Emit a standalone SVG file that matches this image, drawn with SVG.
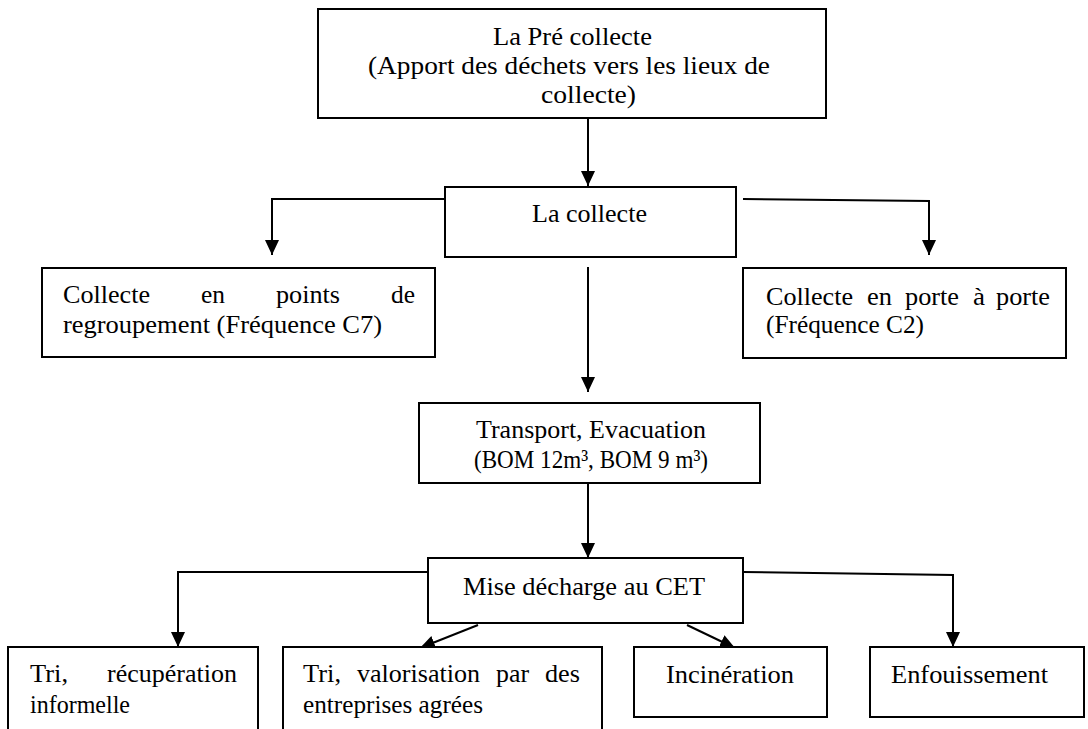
<svg xmlns="http://www.w3.org/2000/svg" width="1088" height="729" viewBox="0 0 1088 729">
<style>
.box{fill:#fff;stroke:#000;stroke-width:2}
.t{font-family:"Liberation Serif","Times New Roman",serif;font-size:26px;fill:#000}
.c{fill:none;stroke:#000;stroke-width:2}
</style>
<defs>
<marker id="ah" markerUnits="userSpaceOnUse" markerWidth="16" markerHeight="16" refX="15" refY="7" orient="auto">
<path d="M0,0 L15,7 L0,14 Z" fill="#000"/>
</marker>
</defs>
<rect width="1088" height="729" fill="#fff"/>
<g id="connectors">
<path class="c" d="M588,118 V186" marker-end="url(#ah)"/>
<path class="c" d="M445,199 H272 V255" marker-end="url(#ah)"/>
<path class="c" d="M743,199 L929,201 V255" marker-end="url(#ah)"/>
<path class="c" d="M588,267 V392" marker-end="url(#ah)"/>
<path class="c" d="M588,483 V558" marker-end="url(#ah)"/>
<path class="c" d="M428,572 H178 V647" marker-end="url(#ah)"/>
<path class="c" d="M478,625 L420,648" marker-end="url(#ah)"/>
<path class="c" d="M687,625 L735,648" marker-end="url(#ah)"/>
<path class="c" d="M743,572 L953,575 V647" marker-end="url(#ah)"/>
</g>
<g id="pre-collecte">
<rect class="box" x="318" y="9" width="508" height="109"/>
<text class="t" x="493" y="45" textLength="159" lengthAdjust="spacingAndGlyphs">La Pré collecte</text>
<text class="t" x="368" y="74" textLength="402" lengthAdjust="spacingAndGlyphs">(Apport des déchets vers les lieux de</text>
<text class="t" x="541" y="103" textLength="95" lengthAdjust="spacingAndGlyphs">collecte)</text>
</g>
<g id="collecte">
<rect class="box" x="445" y="187" width="291" height="70"/>
<text class="t" x="532" y="222" textLength="115" lengthAdjust="spacingAndGlyphs">La collecte</text>
</g>
<g id="points-regroupement">
<rect class="box" x="42" y="268" width="393" height="89"/>
<text class="t" x="63" y="303" textLength="87" lengthAdjust="spacingAndGlyphs">Collecte</text>
<text class="t" x="201" y="303" textLength="24" lengthAdjust="spacingAndGlyphs">en</text>
<text class="t" x="276" y="303" textLength="64" lengthAdjust="spacingAndGlyphs">points</text>
<text class="t" x="391" y="303" textLength="24" lengthAdjust="spacingAndGlyphs">de</text>
<text class="t" x="63" y="333" textLength="319" lengthAdjust="spacingAndGlyphs">regroupement (Fréquence C7)</text>
</g>
<g id="porte-a-porte">
<rect class="box" x="743" y="268" width="323" height="90"/>
<text class="t" x="766" y="305" textLength="87" lengthAdjust="spacingAndGlyphs">Collecte</text>
<text class="t" x="867" y="305" textLength="25" lengthAdjust="spacingAndGlyphs">en</text>
<text class="t" x="905" y="305" textLength="54" lengthAdjust="spacingAndGlyphs">porte</text>
<text class="t" x="973" y="305" textLength="12" lengthAdjust="spacingAndGlyphs">à</text>
<text class="t" x="996" y="305" textLength="54" lengthAdjust="spacingAndGlyphs">porte</text>
<text class="t" x="766" y="333" textLength="158" lengthAdjust="spacingAndGlyphs">(Fréquence C2)</text>
</g>
<g id="transport">
<rect class="box" x="419" y="403" width="341" height="80"/>
<text class="t" x="476" y="438" textLength="230" lengthAdjust="spacingAndGlyphs">Transport, Evacuation</text>
<text class="t" x="474" y="468" textLength="234" lengthAdjust="spacingAndGlyphs">(BOM 12m³, BOM 9 m³)</text>
</g>
<g id="mise-decharge">
<rect class="box" x="428" y="558" width="315" height="65"/>
<text class="t" x="463" y="595" textLength="242" lengthAdjust="spacingAndGlyphs">Mise décharge au CET</text>
</g>
<g id="tri-informel">
<rect class="box" x="8" y="647" width="250" height="95"/>
<text class="t" x="30" y="682" textLength="38" lengthAdjust="spacingAndGlyphs">Tri,</text>
<text class="t" x="107" y="682" textLength="130" lengthAdjust="spacingAndGlyphs">récupération</text>
<text class="t" x="30" y="713" textLength="100" lengthAdjust="spacingAndGlyphs">informelle</text>
</g>
<g id="tri-valorisation">
<rect class="box" x="283" y="647" width="319" height="95"/>
<text class="t" x="303" y="682" textLength="38" lengthAdjust="spacingAndGlyphs">Tri,</text>
<text class="t" x="357" y="682" textLength="123" lengthAdjust="spacingAndGlyphs">valorisation</text>
<text class="t" x="496" y="682" textLength="33" lengthAdjust="spacingAndGlyphs">par</text>
<text class="t" x="545" y="682" textLength="35" lengthAdjust="spacingAndGlyphs">des</text>
<text class="t" x="303" y="713" textLength="180" lengthAdjust="spacingAndGlyphs">entreprises agrées</text>
</g>
<g id="incineration">
<rect class="box" x="634" y="647" width="193" height="70"/>
<text class="t" x="666" y="683" textLength="128" lengthAdjust="spacingAndGlyphs">Incinération</text>
</g>
<g id="enfouissement">
<rect class="box" x="870" y="647" width="214" height="70"/>
<text class="t" x="891" y="683" textLength="157" lengthAdjust="spacingAndGlyphs">Enfouissement</text>
</g>
</svg>
